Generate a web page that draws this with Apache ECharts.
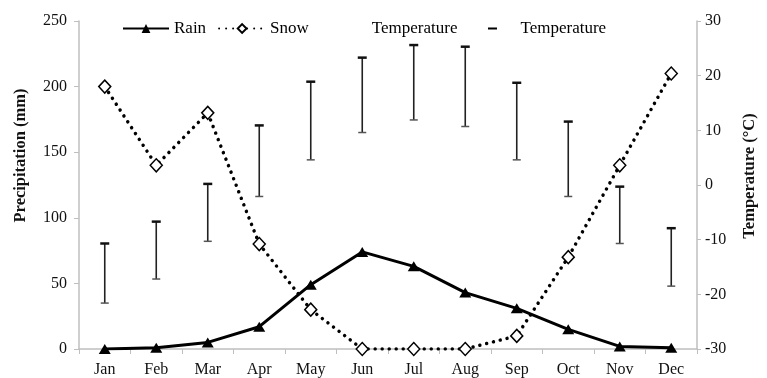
<!DOCTYPE html>
<html>
<head>
<meta charset="utf-8">
<script src="https://cdn.jsdelivr.net/npm/echarts@6/dist/echarts.min.js"></script>
<style>
html,body{margin:0;padding:0;background:#fff;}
#chart{width:767px;height:378px;}
</style>
</head>
<body>
<div id="chart"></div>
<script>
const months = ['Jan','Feb','Mar','Apr','May','Jun','Jul','Aug','Sep','Oct','Nov','Dec'];
const rain = [0, 1, 5, 17, 49, 74, 63, 43, 31, 15, 2, 1];
const snow = [200, 140, 180, 80, 30, 0, 0, 0, 10, 70, 140, 210];
const tempHigh = [-10.7, -6.7, 0.2, 10.9, 18.9, 23.3, 25.6, 25.3, 18.7, 11.6, -0.3, -7.9];
const tempLow = [-21.6, -17.2, -10.3, -2.1, 4.6, 9.6, 11.9, 10.7, 4.6, -2.1, -10.7, -18.5];
const precipTicks = {min: 0, max: 250, interval: 50};
const tempTicks = {min: -30, max: 30, interval: 10};

const FONT = 'Liberation Serif';
const chart = echarts.init(document.getElementById('chart'), null, {renderer: 'canvas'});
const tempData = months.map((m, i) => [i, tempLow[i], tempHigh[i]]);

chart.setOption({
  animation: false,
  backgroundColor: '#fff',
  textStyle: {fontFamily: FONT},
  grid: {left: 79, right: 70, top: 21, bottom: 28, containLabel: false},
  legend: {
    left: 117, top: 15,
    itemWidth: 46, itemHeight: 11, itemGap: 12,
    textStyle: {fontFamily: FONT, fontSize: 17, color: '#000'},
    data: [
      {name: 'Rain'},
      {name: 'Snow'},
      {name: 'Temperature', icon: 'none'},
      {name: 'Temperature ', icon: 'path://M0,0L0.01,0M46,11L46.01,11M18.5,4.5H27.5V6.5H18.5Z'}
    ]
  },
  xAxis: {
    type: 'category',
    data: months,
    boundaryGap: true,
    axisLine: {lineStyle: {color: '#bfbfbf', width: 1.5}},
    axisTick: {show: true, length: 5, lineStyle: {color: '#bfbfbf', width: 1}},
    axisLabel: {fontFamily: FONT, fontSize: 16, color: '#111', margin: 13}
  },
  yAxis: [
    {
      type: 'value', position: 'left',
      min: precipTicks.min, max: precipTicks.max, interval: precipTicks.interval,
      name: 'Precipitation (mm)', nameLocation: 'middle', nameGap: 50, nameRotate: 90,
      nameTextStyle: {fontFamily: FONT, fontSize: 16.5, fontWeight: 'bold', color: '#111', padding: [0, 0, 0, 59]},
      axisLine: {show: true, lineStyle: {color: '#bfbfbf', width: 1.5}},
      axisTick: {show: true, length: 5, lineStyle: {color: '#bfbfbf'}},
      splitLine: {show: false},
      axisLabel: {fontFamily: FONT, fontSize: 16, color: '#111', margin: 12}
    },
    {
      type: 'value', position: 'right',
      min: tempTicks.min, max: tempTicks.max, interval: tempTicks.interval,
      name: 'Temperature (°C)', nameLocation: 'middle', nameGap: 44, nameRotate: 90,
      nameTextStyle: {fontFamily: FONT, fontSize: 16.5, fontWeight: 'bold', color: '#111', padding: [0, 0, 0, 18]},
      axisLine: {show: true, lineStyle: {color: '#bfbfbf', width: 1.5}},
      axisTick: {show: true, length: 4, lineStyle: {color: '#bfbfbf'}},
      splitLine: {show: false},
      axisLabel: {fontFamily: FONT, fontSize: 16, color: '#111', margin: 8}
    }
  ],
  series: [
    {
      name: 'Temperature', type: 'custom', yAxisIndex: 1,
      itemStyle: {color: '#000'},
      encode: {x: 0, y: [1, 2]},
      data: tempData,
      renderItem: function (params, api) {
        const i = api.value(0);
        const top = api.coord([i, api.value(2)]);
        const bot = api.coord([i, api.value(1)]);
        return {
          type: 'group',
          children: [
            {type: 'line', shape: {x1: top[0], y1: top[1], x2: bot[0], y2: bot[1]}, style: {stroke: '#222', lineWidth: 1.6}},
            {type: 'line', shape: {x1: top[0] - 4.5, y1: top[1], x2: top[0] + 4.5, y2: top[1]}, style: {stroke: '#111', lineWidth: 2.5}}
          ]
        };
      }
    },
    {
      name: 'Temperature ', type: 'custom', yAxisIndex: 1,
      itemStyle: {color: '#000'},
      encode: {x: 0, y: 1},
      data: tempData,
      renderItem: function (params, api) {
        const i = api.value(0);
        const bot = api.coord([i, api.value(1)]);
        return {type: 'line', shape: {x1: bot[0] - 4, y1: bot[1], x2: bot[0] + 4, y2: bot[1]}, style: {stroke: '#555', lineWidth: 1.5}};
      }
    },
    {
      name: 'Rain', type: 'line', yAxisIndex: 0,
      data: rain,
      symbol: 'triangle', symbolSize: [12, 10],
      itemStyle: {color: '#000'},
      lineStyle: {color: '#000', width: 3},
      z: 3
    },
    {
      name: 'Snow', type: 'line', yAxisIndex: 0,
      data: snow,
      symbol: 'diamond', symbolSize: [12, 13],
      itemStyle: {color: '#fff', borderColor: '#000', borderWidth: 1.5},
      lineStyle: {color: '#000', width: 3.5, type: [0.01, 7], cap: 'round'},
      z: 4
    }
  ]
});
</script>
</body>
</html>
